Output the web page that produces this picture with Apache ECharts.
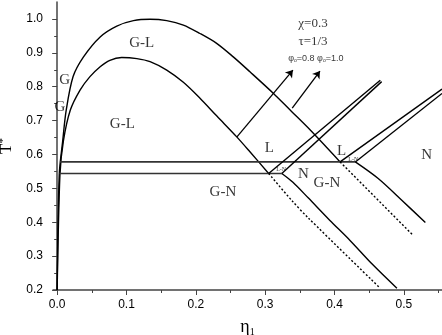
<!DOCTYPE html>
<html>
<head>
<meta charset="utf-8">
<script src="https://cdn.jsdelivr.net/npm/echarts@6/dist/echarts.min.js"></script>
<style>
  html, body { margin: 0; padding: 0; background: #fff; }
  #chart { width: 442px; height: 335px; }
</style>
</head>
<body>
<div id="chart"></div>
<script>
var chart = echarts.init(document.getElementById('chart'));
var option;

// axis ticks
const xMajor = [0, 0.1, 0.2, 0.3, 0.4, 0.5];
const xMinor = [0.05, 0.15, 0.25, 0.35, 0.45, 0.55];
const yMajor = [0.2, 0.3, 0.4, 0.5, 0.6, 0.7, 0.8, 0.9, 1.0];
const yMinor = [0.25, 0.35, 0.45, 0.55, 0.65, 0.75, 0.85, 0.95];

// gas-liquid binodals (phi0 = 1.0 outer, phi0 = 0.8 inner)
const outerGL = [[0, 0.2], [0.003, 0.54], [0.008, 0.64], [0.013, 0.73], [0.023, 0.83], [0.038, 0.888],
  [0.062, 0.947], [0.086, 0.979], [0.110, 0.995], [0.134, 0.999], [0.158, 0.995], [0.182, 0.982],
  [0.206, 0.957], [0.230, 0.928], [0.254, 0.888], [0.278, 0.844], [0.312, 0.780], [0.336, 0.731],
  [0.365, 0.672], [0.408, 0.578]];
const innerGL = [[0, 0.2], [0.004, 0.54], [0.009, 0.64], [0.019, 0.731], [0.033, 0.79], [0.047, 0.829],
  [0.062, 0.859], [0.076, 0.878], [0.093, 0.886], [0.115, 0.883], [0.134, 0.874], [0.158, 0.849],
  [0.182, 0.813], [0.206, 0.766], [0.230, 0.714], [0.259, 0.652], [0.278, 0.608], [0.305, 0.544]];

// triple lines
const upperTriple = [[0.004, 0.578], [0.430, 0.578]];
const lowerTriple = [[0.0035, 0.544], [0.324, 0.544]];

// liquid-nematic coexistence
const lnInnerA = [[0.305, 0.544], [0.466, 0.819]];
const lnInnerB = [[0.324, 0.544], [0.468, 0.815]];
const lnOuterA = [[0.408, 0.578], [0.555, 0.793]];
const lnOuterB = [[0.430, 0.578], [0.555, 0.780]];

// gas-nematic boundaries
const nInner = [[0.324, 0.544], [0.340, 0.518], [0.362, 0.472], [0.393, 0.406], [0.422, 0.347],
  [0.455, 0.275], [0.490, 0.205]];
const nOuter = [[0.430, 0.578], [0.463, 0.529], [0.497, 0.465], [0.531, 0.399]];
const dInner = [[0.305, 0.544], [0.338, 0.465], [0.362, 0.413], [0.466, 0.205]];
const dOuter = [[0.408, 0.578], [0.513, 0.362]];

// arrows
const arrowFrom = [[0.259, 0.651], [0.339, 0.737]];
const arrowTo = [[0.340, 0.849], [0.379, 0.846]];

// text
const regionLabels = [['G-L', 0.122, 0.928], ['G', 0.011, 0.819], ['G', 0.004, 0.741], ['G-L', 0.094, 0.690],
  ['L', 0.306, 0.620], ['L', 0.410, 0.609], ['N', 0.533, 0.598], ['N', 0.355, 0.542],
  ['G-N', 0.389, 0.517], ['G-N', 0.239, 0.489]];
const tinyLabels = [['L-N', 0.323, 0.555], ['L-N', 0.427, 0.586]];
const paramLabels = [['χ=0.3', 0.369, 0.987], ['τ=1/3', 0.369, 0.932]];
const phiLabel = [0.373, 0.883];

const serif = 'Liberation Serif';
const sans = 'Liberation Sans';
const axisCol = '#444';

function curve(data, dashed, smooth) {
  return {
    type: 'line',
    data: data,
    symbol: 'none',
    smooth: smooth ? 0.3 : false,
    silent: true,
    lineStyle: { color: '#000', width: 1.4, type: dashed ? [2, 2] : 'solid' }
  };
}

function textSeries(items, size, family) {
  return {
    type: 'scatter',
    symbolSize: 0,
    silent: true,
    data: items.map(d => ({ name: d[0], value: [d[1], d[2]] })),
    label: {
      show: true,
      position: 'inside',
      formatter: p => p.name,
      color: '#000',
      fontFamily: family,
      fontSize: size
    }
  };
}

option = {
  animation: false,
  grid: [
    { left: 53, right: 0, top: 2, bottom: 45, outerBoundsMode: 'none' },
    { left: 53, right: 0, top: 2, bottom: 45, outerBoundsMode: 'none' }
  ],
  xAxis: [
    {
      type: 'value', gridIndex: 0, min: -0.006, max: 0.555,
      splitLine: { show: false },
      axisLine: { lineStyle: { color: axisCol, width: 1.5 } },
      axisTick: { customValues: xMajor, length: 5, lineStyle: { color: axisCol } },
      axisLabel: { customValues: xMajor, formatter: v => v.toFixed(1), color: '#000', fontFamily: sans, fontSize: 12, margin: 9 },
      name: '{e|η}{s|1}',
      nameLocation: 'middle',
      nameGap: 28,
      nameTextStyle: {
        rich: {
          e: { fontFamily: serif, fontSize: 18, color: '#000' },
          s: { fontFamily: serif, fontSize: 10, color: '#000', padding: [9, 0, 0, 0] }
        }
      }
    },
    {
      type: 'value', gridIndex: 1, min: -0.006, max: 0.555,
      splitLine: { show: false },
      axisLine: { show: false },
      axisTick: { customValues: xMinor, length: 3, lineStyle: { color: axisCol } },
      axisLabel: { show: false }
    }
  ],
  yAxis: [
    {
      type: 'value', gridIndex: 0, min: 0.2, max: 1.05,
      splitLine: { show: false },
      axisLine: { lineStyle: { color: axisCol, width: 1.5 } },
      axisTick: { customValues: yMajor, length: 5, lineStyle: { color: axisCol } },
      axisLabel: { customValues: yMajor, formatter: v => v.toFixed(1), color: '#000', fontFamily: sans, fontSize: 12, margin: 10 },
      name: '{t|T}{s|*}',
      nameLocation: 'middle',
      nameRotate: 90,
      nameGap: 31,
      nameTextStyle: {
        rich: {
          t: { fontFamily: serif, fontSize: 17, color: '#000' },
          s: { fontFamily: serif, fontSize: 11, color: '#000', padding: [0, 0, 8, 0] }
        }
      }
    },
    {
      type: 'value', gridIndex: 1, min: 0.2, max: 1.05,
      splitLine: { show: false },
      axisLine: { show: false },
      axisTick: { customValues: yMinor, length: 3, lineStyle: { color: axisCol } },
      axisLabel: { show: false }
    }
  ],
  series: [
    curve(outerGL, false, true),
    curve(innerGL, false, true),
    {
      type: 'line', data: upperTriple, symbol: 'none', silent: true,
      lineStyle: { color: '#333', width: 1.6 }
    },
    {
      type: 'line', data: lowerTriple, symbol: 'none', silent: true,
      lineStyle: { color: '#333', width: 1.6 }
    },
    curve(lnInnerA, false, false),
    curve(lnInnerB, false, false),
    curve(lnOuterA, false, false),
    curve(lnOuterB, false, false),
    curve(nInner, false, true),
    curve(nOuter, false, true),
    curve(dInner, true, true),
    curve(dOuter, true, false),
    {
      type: 'line',
      data: arrowFrom,
      symbol: 'none',
      lineStyle: { width: 0, opacity: 0 },
      silent: true,
      markLine: {
        silent: true,
        symbol: ['none', 'arrow'],
        symbolSize: 7,
        label: { show: false },
        itemStyle: { color: '#000' },
        lineStyle: { color: '#000', width: 1.3, type: 'solid' },
        data: arrowFrom.map((a, i) => [{ coord: a }, { coord: arrowTo[i] }])
      }
    },
    textSeries(regionLabels, 15, serif),
    textSeries(tinyLabels, 6, serif),
    textSeries(paramLabels, 13, serif),
    {
      type: 'scatter',
      symbolSize: 0,
      silent: true,
      data: [{ name: 'phi', value: phiLabel }],
      label: {
        show: true,
        position: 'inside',
        formatter: '{p|φ}{s|o}{p|=0.8 }{p|φ}{s|o}{p|=1.0}',
        rich: {
          p: { fontFamily: sans, fontSize: 9, color: '#000' },
          s: { fontFamily: sans, fontSize: 5, color: '#000', padding: [5, 0, 0, 0] }
        }
      }
    }
  ]
};

option && chart.setOption(option);
</script>
</body>
</html>
